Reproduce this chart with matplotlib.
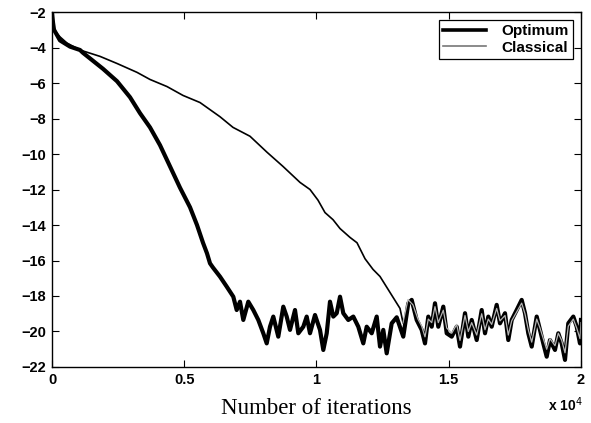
import matplotlib
matplotlib.use("Agg")
from matplotlib import pyplot as plt
from matplotlib.lines import Line2D

# values (iterations, curve value)
opt_iter = [0, 38, 76, 189, 302, 681, 1059, 1172, 1550, 1928, 2458, 2949, 3327, 3705,
            4083, 4462, 4840, 5218, 5482, 5709, 5861, 5974, 6087, 6352, 6605, 6855,
            6983, 7108, 7233, 7422, 7611, 7800, 7989, 8118, 8242, 8367, 8556, 8745,
            8874, 8999, 9188, 9313, 9502, 9630, 9755, 9944, 10133, 10258, 10387, 10511,
            10636, 10765, 10890, 11014, 11203, 11392, 11581, 11770, 11899, 12088, 12277,
            12402, 12526, 12655, 12844, 13033, 13282, 13471, 13600, 13789, 13978, 14103,
            14228, 14357, 14481, 14606, 14795, 14924, 15113, 15302, 15427, 15616, 15741,
            15869, 16058, 16247, 16372, 16497, 16625, 16814, 16939, 17128, 17253, 17381,
            17570, 17759, 17884, 18009, 18138, 18327, 18451, 18576, 18705, 18829, 19018,
            19144, 19272, 19397, 19521, 19711, 19839, 19964, 20000]
opt_val = [-2.0, -2.6, -3.0, -3.3, -3.6, -3.95, -4.14, -4.3, -4.75, -5.2, -5.9, -6.8, -7.7, -8.5,
           -9.5, -10.7, -11.9, -13.0, -14.0, -15.0, -15.6, -16.16, -16.4, -16.91, -17.47, -18.04,
           -18.79, -18.32, -19.35, -18.32, -18.79, -19.35, -20.1, -20.67, -19.73, -19.16, -20.29, -18.6,
           -19.16, -19.91, -18.79, -20.1, -19.73, -19.16, -20.1, -19.07, -19.91, -21.04, -20.1, -18.32,
           -19.16, -18.97, -18.04, -18.97, -19.35, -19.16, -19.73, -20.67, -19.73, -20.1, -19.16,
           -20.85, -19.91, -21.23, -19.54, -19.2, -20.29, -18.41, -18.22, -19.35, -19.91, -20.67,
           -19.16, -19.73, -18.41, -19.73, -18.6, -20.1, -20.29, -19.73, -20.85, -18.97, -20.29,
           -19.35, -20.48, -18.79, -20.1, -19.16, -19.73, -18.5, -19.54, -18.97, -20.48, -19.35,
           -18.79, -18.22, -18.97, -20.1, -20.85, -19.16, -19.91, -20.67, -21.42, -20.48, -21.04,
           -20.1, -20.67, -21.6, -19.54, -19.16, -19.73, -20.67, -19.35]

cls_iter = [0, 38, 76, 189, 302, 567, 1059, 1815, 2458, 3214, 3705, 4348, 4953, 5596, 5974,
            6352, 6843, 7486, 8129, 8734, 9377, 9755, 10057, 10322, 10625, 10890, 11268, 11532,
            11835, 12137, 12402, 12780, 13158, 13271, 13460, 13649, 13838, 13978, 14103, 14228,
            14357, 14481, 14606, 14795, 14924, 15113, 15302, 15427, 15616, 15741, 15869, 16058,
            16247, 16372, 16497, 16625, 16814, 16939, 17128, 17253, 17381, 17570, 17759, 17884,
            18009, 18138, 18327, 18451, 18576, 18705, 18829, 19018, 19144, 19272, 19397, 19521,
            19711, 19839, 19964, 20000]
cls_val = [-2.0, -2.6, -3.0, -3.2, -3.4, -3.75, -4.14, -4.5, -4.9, -5.4, -5.8, -6.2, -6.7, -7.1, -7.5,
           -7.9, -8.5, -9.0, -9.9, -10.7, -11.6, -12.0, -12.6, -13.3, -13.7, -14.2, -14.7, -15.0,
           -15.9, -16.5, -16.9, -17.8, -18.7, -19.5, -18.2, -18.5, -19.3, -19.7, -20.3, -19.3,
           -19.5, -18.6, -19.5, -18.8, -19.8, -20.1, -19.6, -20.5, -19.1, -20.0, -19.5, -20.2,
           -19.0, -19.9, -19.3, -19.6, -18.7, -19.4, -19.1, -20.2, -19.4, -18.9, -18.4, -19.0,
           -19.9, -20.6, -19.3, -19.8, -20.4, -21.0, -20.4, -20.8, -20.1, -20.5, -21.2, -19.7,
           -19.3, -19.8, -20.4, -19.5]

x_ticks = [0, 5000, 10000, 15000, 20000]
x_tick_labels = ["0", "0.5", "1", "1.5", "2"]
y_ticks = list(range(-22, -1, 2))

plt.rcParams['font.family'] = ['Liberation Sans', 'DejaVu Sans']

fig = plt.figure(figsize=(5.91, 4.23), dpi=100)
ax = fig.add_axes([0.088, 0.1324, 0.895, 0.8392])

ax.plot(opt_iter, opt_val, color="k", linewidth=3.0)
# classical: black while it is on its own, light grey where it runs inside the optimum noise
head = [i for i, x in enumerate(cls_iter) if x <= 13300]
tail = [i for i, x in enumerate(cls_iter) if x >= 13271]
ax.plot([cls_iter[i] for i in head], [cls_val[i] for i in head], color="k", linewidth=1.2)
ax.plot([cls_iter[i] for i in tail], [cls_val[i] for i in tail], color="#b4b4b4", linewidth=0.9)

ax.set_xlim(0, 20000)
ax.set_ylim(-22, -2)
ax.set_xticks(x_ticks)
ax.set_xticklabels(x_tick_labels)
ax.set_yticks(y_ticks)
ax.tick_params(direction="in", top=True, right=True, length=5, width=0.8,
               labelsize=10.5, pad=4)
for lab in ax.get_xticklabels() + ax.get_yticklabels():
    lab.set_fontweight("bold")
for s in ax.spines.values():
    s.set_linewidth(1.0)

ax.set_xlabel("Number of iterations", family="Liberation Serif", fontsize=16.5, labelpad=8)
fig.text(0.986, 0.022, r"x 10$^{4}$", ha="right", va="bottom", fontsize=10, fontweight="bold")

handles = [Line2D([], [], color="k", linewidth=2.6),
           Line2D([], [], color="#777777", linewidth=1.2)]
leg = ax.legend(handles, ["Optimum", "Classical"], loc="upper right", fancybox=False,
                edgecolor="k", framealpha=1, borderaxespad=0.5, handlelength=2.8,
                handletextpad=1.0, prop={"size": 11, "weight": "bold"},
                borderpad=0.3, labelspacing=0.15)
leg.get_frame().set_linewidth(0.9)

plt.savefig("out.png", dpi=100)
